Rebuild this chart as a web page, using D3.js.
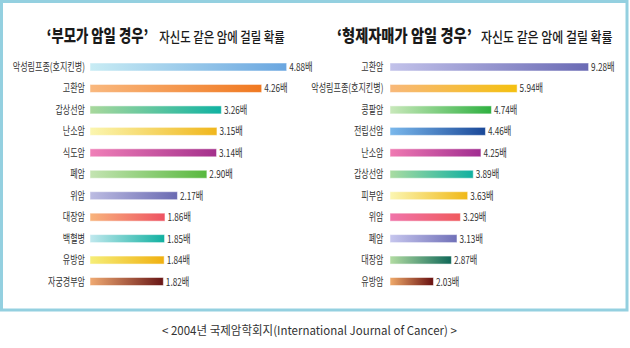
<!DOCTYPE html>
<html><head><meta charset="utf-8">
<script src="https://cdn.jsdelivr.net/npm/d3@7"></script>
<style>
html,body{margin:0;padding:0;background:#fff;}
svg{display:block;font-family:"Noto Sans CJK KR","Noto Sans",sans-serif;}
</style></head>
<body><div id="chart"></div>
<script>
// ---- data ----
const titleMain = ["‘부모가 암일 경우’", "‘형제자매가 암일 경우’"];
const titleSub = "자신도 같은 암에 걸릴 확률";
const caption = "< 2004년 국제암학회지(International Journal of Cancer) >";
const unit = "배";

const parentCategories = ["악성림프종(호지킨병)","고환암","갑상선암","난소암","식도암","폐암","위암","대장암","백혈병","유방암","자궁경부암"];
const parentValues = [4.88,4.26,3.26,3.15,3.14,2.90,2.17,1.86,1.85,1.84,1.82];

const siblingCategories = ["고환암","악성림프종(호지킨병)","콩팥암","전립선암","난소암","갑상선암","피부암","위암","폐암","대장암","유방암"];
const siblingValues = [9.28,5.94,4.74,4.46,4.25,3.89,3.63,3.29,3.13,2.87,2.03];

// ---- styles ----
const parentColorsFrom = ["#c8ecf4","#f9b87e","#a8d89c","#fbf6b0","#f080b8","#c4e4b2","#bcbce2","#f8b47c","#c0e8ee","#f6ee78","#f0aa72"];
const parentColorsTo   = ["#6aa6e0","#f07820","#10b2a2","#f0b61c","#a4308c","#58b83e","#6a6ab2","#ee5262","#10b0a0","#f0b010","#681616"];
const siblingColorsFrom = ["#c2c2ea","#f8b87a","#c8e8ba","#7ab8ec","#f07ab2","#aadca2","#fbf6b2","#f074aa","#c6c6ee","#b2dca2","#f0aa6a"];
const siblingColorsTo   = ["#6a6ab4","#f4c010","#2eb040","#1a4898","#a02c90","#10b0a0","#f0b818","#f05a5e","#7070b8","#106858","#681010"];

const W = 630, H = 348;
const svg = d3.select("#chart").append("svg").attr("width", W).attr("height", H);
const defs = svg.append("defs");

// frame
svg.append("rect").attr("x",1.5).attr("y",1.5).attr("width",625.5).attr("height",308.5)
  .attr("fill","none").attr("stroke","#94d0e0").attr("stroke-width",3);

// place a text so that it spans exactly `width` px horizontally, by scaling it
function fitText(sel, x, y, width, anchor){
  const node = sel.node();
  const nat = node.getComputedTextLength();
  const k = width / nat;
  const x0 = anchor === "end" ? x - width : x;
  sel.attr("x",0).attr("y",0).attr("transform", `translate(${x0},${y}) scale(${k},1)`);
  return sel;
}

function labelWidth(s){
  let w = 0;
  for (const ch of s){
    if (/[()]/.test(ch)) w += 2.8;
    else if (/[\uAC00-\uD7A3]/.test(ch)) w += 7.4;
    else w += 5;
  }
  return w;
}

const panels = [
  {cats: parentCategories, vals: parentValues, from: parentColorsFrom, to: parentColorsTo,
   x: d3.scaleLinear().domain([0,5]).range([90, 291.5]), labelRight: 85,
   title: titleMain[0], tX: 46.7, tW: 101.6, sX: 159.3, sW: 125.7, id:"p"},
  {cats: siblingCategories, vals: siblingValues, from: siblingColorsFrom, to: siblingColorsTo,
   x: d3.scaleLinear().domain([0,10]).range([390, 604]), labelRight: 383.5,
   title: titleMain[1], tX: 337, tW: 134.7, sX: 481, sW: 131.7, id:"s"}
];

panels.forEach(p => {
  const y = d3.scalePoint().domain(p.cats).range([67, 281.5]);
  const barH = 8;
  const g = svg.append("g");

  // titles
  fitText(g.append("text").attr("font-size",17).attr("font-weight",800)
    .attr("fill","#1a1a1a").text(p.title), p.tX, 41.5, p.tW);
  fitText(g.append("text").attr("font-size",14).attr("font-weight",500)
    .attr("fill","#1a1a1a").text(titleSub), p.sX, 41.5, p.sW);

  p.cats.forEach((c,i) => {
    const gid = "grad-" + p.id + i;
    const lg = defs.append("linearGradient").attr("id",gid).attr("x1","0").attr("x2","1").attr("y1","0").attr("y2","0");
    lg.append("stop").attr("offset","0%").attr("stop-color",p.from[i]);
    lg.append("stop").attr("offset","100%").attr("stop-color",p.to[i]);
  });

  const rows = g.selectAll("g.row").data(p.cats.map((c,i)=>({c, v:p.vals[i], i})))
    .join("g").attr("class","row");

  rows.append("rect")
    .attr("x", p.x(0))
    .attr("y", d => y(d.c) - barH/2)
    .attr("width", d => p.x(d.v) - p.x(0))
    .attr("height", barH)
    .attr("fill", d => `url(#grad-${p.id}${d.i})`)
    .attr("stroke","#ffffff").attr("stroke-opacity",0.5).attr("stroke-width",1);

  rows.append("text")
    .attr("font-size",11)
    .attr("fill","#333")
    .text(d => d.c)
    .each(function(d){ fitText(d3.select(this), p.labelRight, y(d.c) + 4, labelWidth(d.c), "end"); });

  rows.append("text")
    .attr("font-size",11)
    .attr("fill","#333")
    .text(d => d3.format(".2f")(d.v) + unit)
    .each(function(d){ fitText(d3.select(this), p.x(d.v) + 2.5, y(d.c) + 4, 23.5); });
});

fitText(svg.append("text").attr("font-size",12).attr("fill","#333").text(caption), 162, 334.5, 295);
</script>
</body></html>
